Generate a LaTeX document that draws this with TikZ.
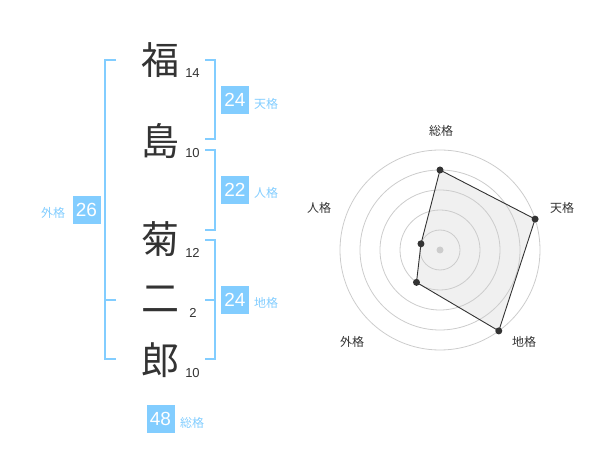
\documentclass[tikz,border=0pt]{standalone}
\usepackage{fontspec}
\setmainfont{Liberation Sans}
\newfontfamily\jp{Noto Sans CJK JP}
\definecolor{kaku}{RGB}{130,205,255}
\definecolor{ink}{RGB}{51,51,51}
\definecolor{ringgray}{RGB}{204,204,204}
\definecolor{area}{RGB}{240,240,240}
\tikzset{
    kanji/.style={text=ink, font=\jp\fontsize{38}{38}\selectfont, inner sep=0pt},
    strokes/.style={text=ink, font=\fontsize{13}{13}\selectfont, inner sep=0pt},
    numbox/.style={fill=kaku, text=white, minimum size=28pt, inner sep=0pt, font=\fontsize{19}{19}\selectfont},
    kakulabel/.style={text=kaku, font=\jp\fontsize{12}{12}\selectfont, inner sep=0pt},
    bracket/.style={draw=kaku, line width=1.8pt},
    axislabel/.style={text=ink, font=\jp\fontsize{12}{12}\selectfont, inner sep=0pt},
    ringline/.style={draw=ringgray, line width=0.8pt},
    radardot/.style={fill=ink},
}
\begin{document}
\begin{tikzpicture}[x=1pt,y=-1pt]
    \useasboundingbox (0,0) rectangle (600,470);
    \path   node[kanji] (K1) at (160,60) {福}
            node[kanji] (K2) at (160,141) {島}
            node[kanji] (K3) at (160,239) {菊}
            node[kanji] (K4) at (160,299) {二}
            node[kanji] (K5) at (160,360) {郎}
            node[strokes] (S1) at (192.5,73) {14}
            node[strokes] (S2) at (192.5,153) {10}
            node[strokes] (S3) at (192.5,253) {12}
            node[strokes] (S4) at (193,313) {2}
            node[strokes] (S5) at (192.5,373) {10};
    \path   coordinate (G1) at (116,60)
            coordinate (G2) at (116,359)
            coordinate (G3) at (116,300)
            coordinate (T1) at (205,60)
            coordinate (T2) at (205,139)
            coordinate (J1) at (205,150)
            coordinate (J2) at (205,230)
            coordinate (C1) at (205,240)
            coordinate (C2) at (205,359)
            coordinate (C3) at (205,300);
    \draw[bracket] (G1) -- ++(-11,0) |- (G2);
    \draw[bracket] (G3) -- ++(-11,0);
    \draw[bracket] (T1) -- ++(10,0) |- (T2);
    \draw[bracket] (J1) -- ++(10,0) |- (J2);
    \draw[bracket] (C1) -- ++(10,0) |- (C2);
    \draw[bracket] (C3) -- ++(10,0);
    \path   node[numbox] (B1) at (235,100) {24}
            node[kakulabel] (L1) at (266,104) {天格}
            node[numbox] (B2) at (235,190) {22}
            node[kakulabel] (L2) at (266,193) {人格}
            node[numbox] (B3) at (235,300) {24}
            node[kakulabel] (L3) at (266,303) {地格}
            node[numbox] (B4) at (86.5,210) {26}
            node[kakulabel] (L4) at (53,213) {外格}
            node[numbox] (B5) at (160.5,419) {48}
            node[kakulabel] (L5) at (192,423) {総格};
    \begin{scope}[shift={(440,250)}, yscale=-1]
        \path   coordinate (O) at (0,0)
                coordinate (P1) at (90:80)
                coordinate (P2) at (18:100)
                coordinate (P3) at (-54:100)
                coordinate (P4) at (-126:40)
                coordinate (P5) at (162:20);
        \fill[area] (P1) -- (P2) -- (P3) -- (P4) -- (P5) -- cycle;
        \foreach \r in {20,40,...,100}
            \draw[ringline] (O) circle (\r pt);
        \draw[ink, line width=0.9pt] (P1) -- (P2) -- (P3) -- (P4) -- (P5) -- cycle;
        \fill[ringgray] (O) circle (3.5pt);
        \foreach \i in {1,...,5}
            \fill[radardot] (P\i) circle (3.5pt);
    \end{scope}
    \path   node[axislabel] (A1) at (441,131) {総格}
            node[axislabel] (A2) at (562,208) {天格}
            node[axislabel] (A3) at (524,342) {地格}
            node[axislabel] (A4) at (352,342) {外格}
            node[axislabel] (A5) at (319,208) {人格};
\end{tikzpicture}
\end{document}
